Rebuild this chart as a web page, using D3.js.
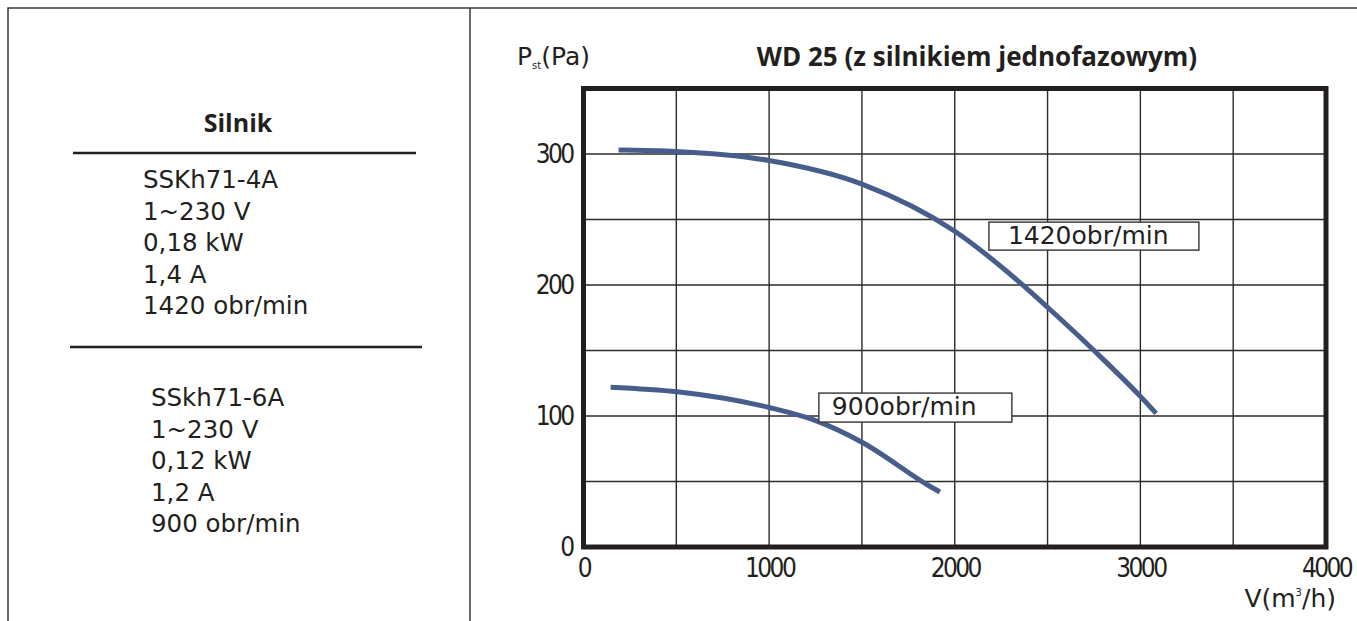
<!DOCTYPE html>
<html>
<head>
<meta charset="utf-8">
<script src="https://cdn.jsdelivr.net/npm/d3@7"></script>
<style>
  html, body { margin: 0; padding: 0; background: #fff; }
  svg { display: block; }
  text { fill: #231f20; font-family: "DejaVu Sans", sans-serif; }
</style>
</head>
<body>
<div id="wykres"></div>
<script>
/* Charakterystyka wentylatora WD 25 — spręż statyczny vs wydajność */

// dane: V (m3/h), Pst (Pa)
const V_1420 = [189, 500, 1000, 1500, 2000, 2350, 2500, 2750, 3000, 3085];
const P_1420 = [303, 302, 295, 277, 241, 202, 183, 150, 115, 102];
const V_900 = [146, 505, 1000, 1240, 1500, 1870, 1920];
const P_900 = [122, 118.5, 106.5, 97, 80, 46, 42];

const SERIE = ["1420obr/min", "900obr/min"];
const TICKI_X = [0, 1000, 2000, 3000, 4000];
const TICKI_Y = [0, 100, 200, 300];
const SIATKA_X = [500, 1000, 1500, 2000, 2500, 3000, 3500];
const SIATKA_Y = [50, 100, 150, 200, 250, 300];

const SILNIK_1 = ["SSKh71-4A", "1~230 V", "0,18 kW", "1,4 A", "1420 obr/min"];
const SILNIK_2 = ["SSkh71-6A", "1~230 V", "0,12 kW", "1,2 A", "900 obr/min"];

const W = 1357, H = 621;
const KOLOR = "#475e8c", CIEMNY = "#231f20";

const svg = d3.select("#wykres").append("svg")
  .attr("width", W).attr("height", H);

/* ---------- ramka tabeli ---------- */
svg.append("path")
  .attr("d", `M${W},8 H8 V${H} M470,8 V${H}`)
  .attr("fill", "none").attr("stroke", "#3a3a3a").attr("stroke-width", 1.5);

/* ---------- lewa kolumna: silniki ---------- */
svg.append("text").attr("x", 238).attr("y", 132)
  .attr("text-anchor", "middle")
  .style("font-family", "'Open Sans', sans-serif")
  .style("font-size", "25px").style("font-weight", 700)
  .text("Silnik");

svg.append("line").attr("x1", 73).attr("x2", 416).attr("y1", 153).attr("y2", 153)
  .attr("stroke", CIEMNY).attr("stroke-width", 2.5);
svg.append("line").attr("x1", 70).attr("x2", 422).attr("y1", 347).attr("y2", 347)
  .attr("stroke", CIEMNY).attr("stroke-width", 2.5);

const blok = (linie, x, y0) => svg.append("g").selectAll("text")
  .data(linie).join("text")
  .attr("x", x).attr("y", (d, i) => y0 + i * 31.5)
  .style("font-size", "24.5px")
  .text((d) => d);
blok(SILNIK_1, 143, 188);
blok(SILNIK_2, 151, 406);

/* ---------- wykres ---------- */
const x = d3.scaleLinear().domain([0, 4000]).range([583.5, 1326]);
const y = d3.scaleLinear().domain([0, 350]).range([547, 88.5]);

const g = svg.append("g");

g.append("g").selectAll("line").data(SIATKA_X).join("line")
  .attr("x1", (d) => x(d)).attr("x2", (d) => x(d))
  .attr("y1", y(0)).attr("y2", y(350))
  .attr("stroke", "#2b2b2b").attr("stroke-width", 1.4);
g.append("g").selectAll("line").data(SIATKA_Y).join("line")
  .attr("x1", x(0)).attr("x2", x(4000))
  .attr("y1", (d) => y(d)).attr("y2", (d) => y(d))
  .attr("stroke", "#2b2b2b").attr("stroke-width", 1.4);

// osie jako d3.axis, bez linii domeny
const osX = g.append("g").attr("transform", `translate(0,${y(0)})`)
  .call(d3.axisBottom(x).tickValues(TICKI_X).tickFormat(d3.format("d"))
    .tickSize(0).tickPadding(30));
const osY = g.append("g").attr("transform", `translate(${x(0)},0)`)
  .call(d3.axisLeft(y).tickValues(TICKI_Y).tickFormat(d3.format("d"))
    .tickSize(0).tickPadding(11));
[osX, osY].forEach((o) => {
  o.select(".domain").remove();
  o.selectAll("text")
    .style("font-family", "'DejaVu Sans Condensed', 'DejaVu Sans', sans-serif")
    .style("font-size", "26px").style("letter-spacing", "-2.6px")
    .attr("fill", CIEMNY);
});
osX.selectAll("text").attr("dy", "0");

const linia = d3.line().x((d) => x(d[0])).y((d) => y(d[1])).curve(d3.curveMonotoneX);
const serie = [d3.zip(V_1420, P_1420), d3.zip(V_900, P_900)];
g.append("g").selectAll("path").data(serie).join("path")
  .attr("d", linia)
  .attr("fill", "none").attr("stroke", KOLOR).attr("stroke-width", 5);

// etykiety krzywych w ramkach
const etykiety = [
  { tekst: SERIE[0], v: 2184, p: 248, w: 210, h: 28, dx: 19 },
  { tekst: SERIE[1], v: 1268, p: 117.5, w: 193, h: 29, dx: 13 },
];
const ge = g.append("g").selectAll("g").data(etykiety).join("g")
  .attr("transform", (d) => `translate(${x(d.v)},${y(d.p)})`);
ge.append("rect")
  .attr("width", (d) => d.w).attr("height", (d) => d.h)
  .attr("fill", "#fff").attr("stroke", "#333").attr("stroke-width", 1.4);
ge.append("text").attr("x", (d) => d.dx).attr("y", 22)
  .style("font-size", "25px")
  .text((d) => d.tekst);

// ramka pola wykresu
g.append("rect")
  .attr("x", x(0)).attr("y", y(350))
  .attr("width", x(4000) - x(0)).attr("height", y(0) - y(350))
  .attr("fill", "none").attr("stroke", CIEMNY).attr("stroke-width", 5);

/* ---------- tytuły osi ---------- */
const tytulY = svg.append("text").attr("x", 517).attr("y", 65)
  .style("font-size", "25px");
tytulY.append("tspan").text("P");
tytulY.append("tspan").attr("dy", 4).style("font-size", "10px").text("st");
tytulY.append("tspan").attr("dy", -4).text("(Pa)");

const tytulX = svg.append("text").attr("x", 1336).attr("y", 607)
  .attr("text-anchor", "end").style("font-size", "25px");
tytulX.append("tspan").text("V(m");
tytulX.append("tspan").attr("dy", -11).style("font-size", "10px").text("3");
tytulX.append("tspan").attr("dy", 11).text("/h)");

svg.append("text").attr("x", 977).attr("y", 66)
  .attr("text-anchor", "middle")
  .style("font-family", "'Open Sans', sans-serif")
  .style("font-size", "26px").style("font-weight", 700)
  .text("WD 25 (z silnikiem jednofazowym)");
</script>
</body>
</html>
